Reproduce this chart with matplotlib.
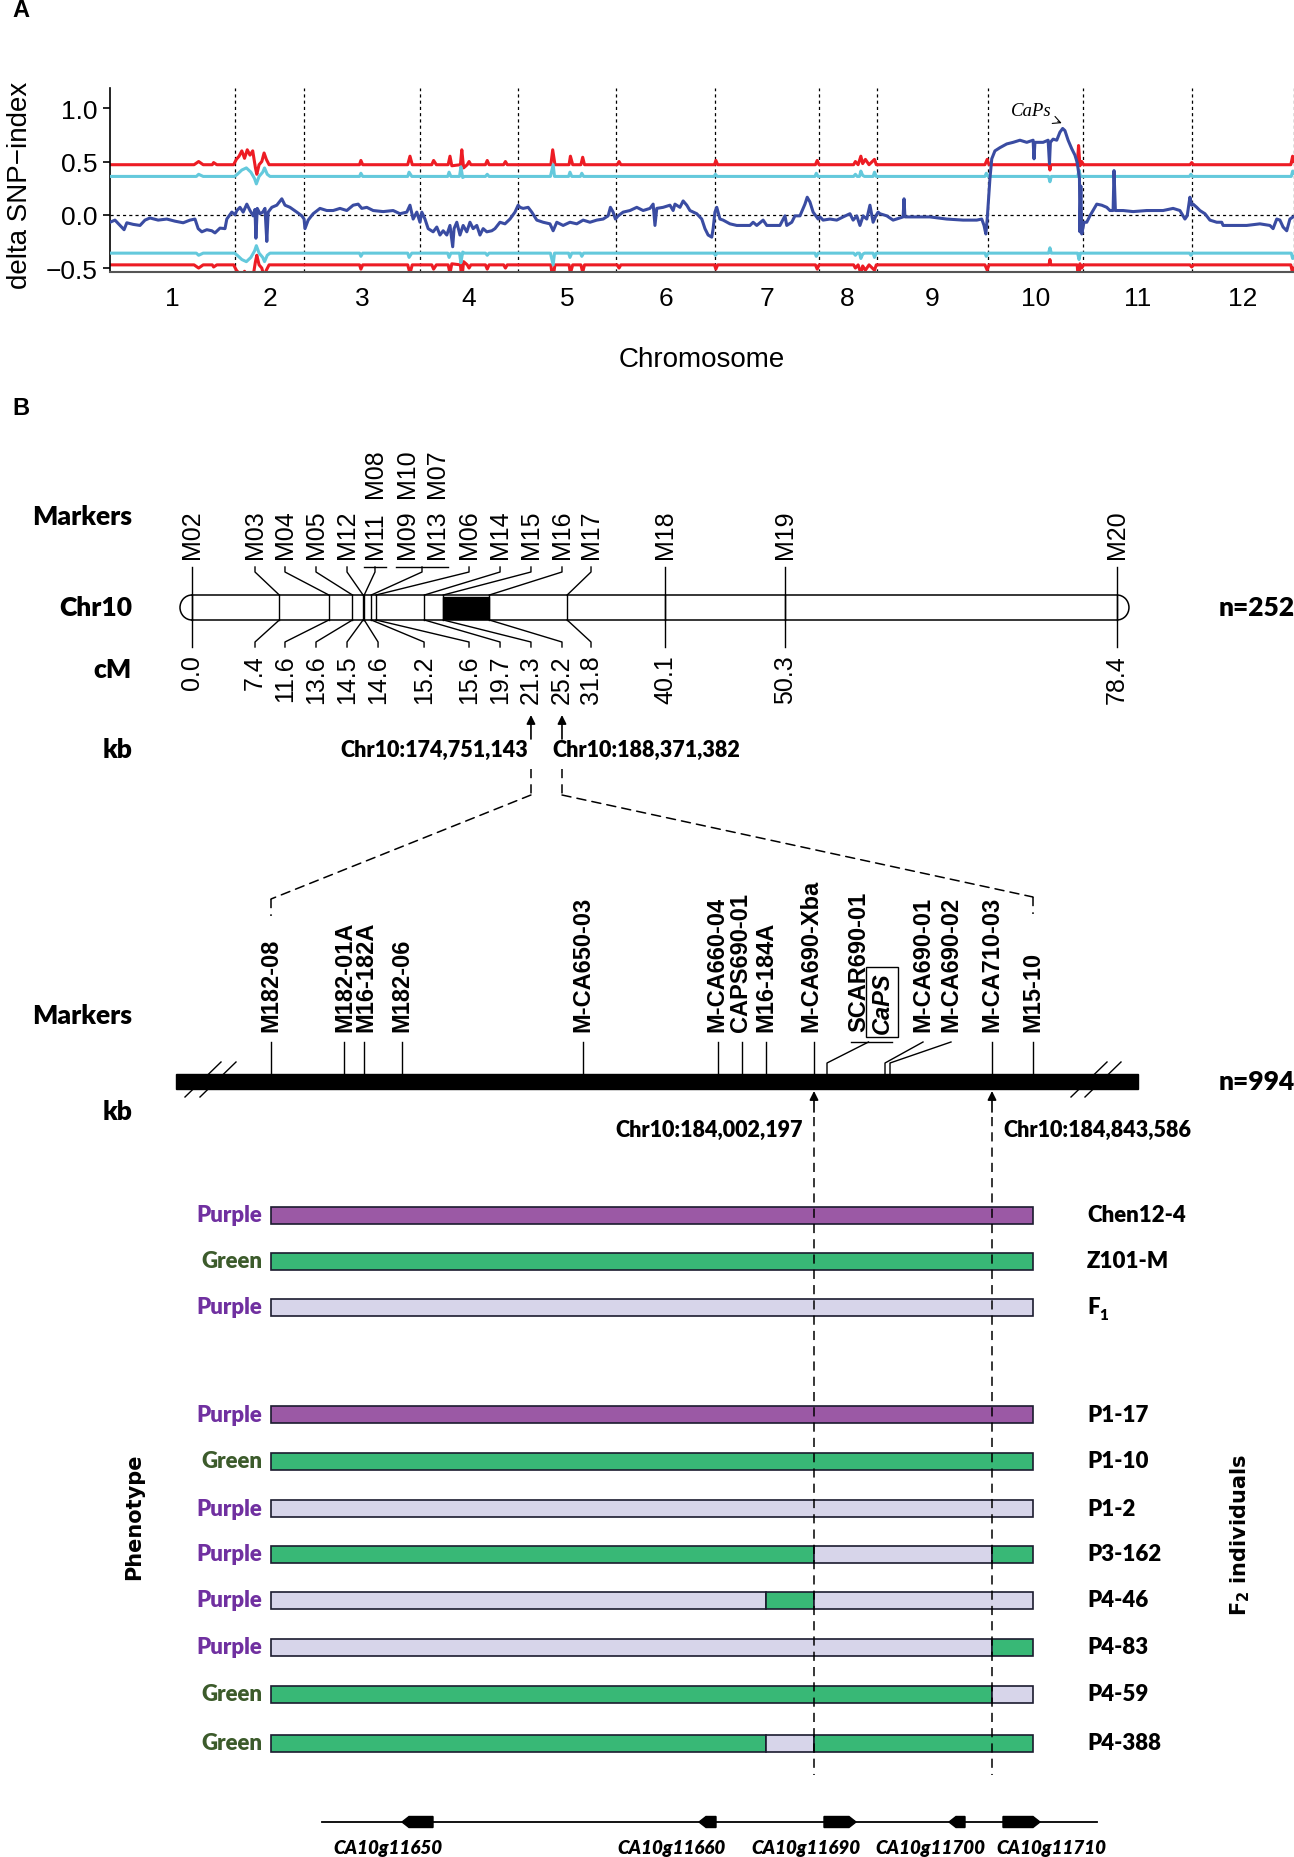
import numpy as np
import matplotlib
matplotlib.use("Agg")
import matplotlib.pyplot as plt
from matplotlib.patches import Rectangle, Arc, Polygon, ConnectionPatch

plt.rcParams['font.family'] = ['Liberation Sans', 'DejaVu Sans']

# ---------------- panel A data (Mb along the genome, delta SNP-index) ----------------
chrom_len = [275, 152, 255, 216, 216, 218, 227, 128, 244, 209, 240, 224]
chrom_names = ['1', '2', '3', '4', '5', '6', '7', '8', '9', '10', '11', '12']

blue_pos = [0, 11, 22, 31, 37, 51, 66, 77, 88, 106, 125, 143, 161, 176, 187, 194, 202, 213, 224, 231, 242, 253, 257, 268, 275,
            279, 286, 293, 301, 308, 315, 319, 321, 324, 330, 336, 341, 345, 348, 356, 367, 378, 385, 396, 411, 422, 427,
            429, 436, 447, 462, 477, 491, 506, 521, 535, 546, 554, 565, 579, 601, 623, 638, 653, 660, 667, 675, 682,
            686, 693, 700, 711, 719, 726, 733, 741, 748, 754, 757, 763, 770, 777, 785, 792, 799, 807, 814, 821, 829, 840, 847, 858, 869, 880, 891, 898,
            902, 909, 920, 928, 939, 953, 968, 975, 983, 997, 1012, 1027, 1041, 1056, 1071, 1085, 1096, 1101, 1107, 1112,
            1118, 1129, 1144, 1159, 1173, 1188, 1195, 1199, 1203, 1217, 1232, 1239, 1243, 1254, 1261, 1269, 1276, 1291, 1302, 1309, 1316, 1324, 1327, 1331,
            1335, 1342, 1349, 1364, 1379, 1393, 1408, 1415, 1423, 1437, 1445, 1459, 1474, 1485, 1489, 1500, 1507, 1518, 1529, 1534, 1540, 1547, 1558,
            1562, 1569, 1584, 1599, 1613, 1628, 1635, 1643, 1650, 1657, 1665, 1672, 1679, 1685,
            1690, 1694, 1709, 1723, 1745, 1747, 1749, 1767, 1804, 1841, 1877, 1907, 1918, 1923, 1927, 1930,
            1932, 1936, 1940, 1947, 1958, 1973, 1987, 2002, 2017, 2031, 2033, 2035, 2053, 2064, 2067, 2069, 2075, 2083, 2090, 2096, 2101, 2108, 2116, 2123, 2128, 2131, 2133, 2134, 2136, 2138,
            2143, 2149, 2156, 2171, 2182, 2193, 2200, 2207, 2209, 2212, 2229, 2251, 2281, 2317, 2339, 2354, 2365, 2370, 2376, 2380,
            2383, 2391, 2398, 2409, 2420, 2435, 2446, 2449, 2471, 2501, 2530, 2552, 2559, 2567, 2574, 2581, 2589, 2596, 2603]
blue_val = [-0.07, -0.05, -0.10, -0.14, -0.075, -0.09, -0.10, -0.05, -0.03, -0.05, -0.04, -0.06, -0.075, -0.05, -0.04, -0.13, -0.16, -0.14, -0.15, -0.17, -0.125, -0.13, -0.04, 0.025, 0.0,
            0.04, 0.07, 0.025, 0.10, 0.04, -0.01, 0.05, -0.22, 0.06, 0.01, 0.025, 0.06, -0.25, 0.025, 0.07, 0.09, 0.15, 0.09, 0.07, 0.025, -0.01, -0.04,
            -0.13, -0.05, 0.01, 0.06, 0.04, 0.04, 0.06, 0.04, 0.09, 0.10, 0.06, 0.07, 0.04, 0.03, 0.04, 0.01, 0.025, 0.09, -0.04, 0.025, -0.07,
            0.025, -0.04, -0.13, -0.16, -0.115, -0.19, -0.15, -0.19, -0.10, -0.30, -0.13, -0.07, -0.19, -0.10, -0.16, -0.07, -0.13, -0.10, -0.19, -0.13, -0.16, -0.15, -0.13, -0.07, -0.085, -0.04, 0.025, 0.09,
            0.07, 0.06, 0.07, 0.025, -0.05, -0.07, -0.085, -0.15, -0.07, -0.10, -0.07, -0.085, -0.05, -0.07, -0.05, -0.04, -0.01, 0.07, 0.025, -0.04,
            -0.01, 0.025, 0.04, 0.07, 0.04, 0.06, 0.10, -0.10, 0.06, 0.07, 0.09, 0.04, 0.10, 0.07, 0.13, 0.09, 0.04, 0.01, -0.04, -0.13, -0.19, -0.21, -0.13, 0.025,
            0.07, -0.04, -0.05, -0.085, -0.10, -0.10, -0.10, -0.07, -0.10, -0.05, -0.10, -0.10, -0.10, -0.01, -0.10, -0.07, -0.01, -0.01, 0.10, 0.165, 0.12, 0.025, -0.04,
            -0.02, -0.05, -0.04, -0.05, -0.02, 0.01, -0.05, -0.01, -0.10, -0.01, -0.04, 0.09, -0.07, -0.01,
            0.025, 0.01, -0.01, -0.05, -0.02, 0.15, -0.02, -0.02, -0.02, -0.04, -0.05, -0.05, -0.04, -0.10, -0.18, -0.04,
            0.09, 0.34, 0.525, 0.60, 0.63, 0.665, 0.68, 0.70, 0.68, 0.70, 0.525, 0.68, 0.68, 0.70, 0.48, 0.68, 0.71, 0.70, 0.775, 0.81, 0.79, 0.70, 0.62, 0.56, 0.49, 0.40, 0.34, -0.16, 0.27, -0.18,
            -0.07, -0.07, -0.01, 0.10, 0.09, 0.07, 0.04, 0.04, 0.415, 0.04, 0.04, 0.03, 0.04, 0.04, 0.06, 0.04, -0.04, -0.01, 0.165, 0.09,
            0.10, 0.07, 0.04, 0.01, -0.05, -0.07, -0.07, -0.10, -0.10, -0.10, -0.085, -0.10, -0.13, -0.04, -0.05, -0.115, -0.15, -0.04, -0.02]

# upper thresholds (the lower ones are the mirror image)
red_pos = [0, 185, 195, 205, 225, 228, 235, 272, 278, 284, 290, 296, 302, 308, 314, 320, 323, 328, 334, 339, 344, 350, 549, 552, 556, 655, 660, 665,
           708, 712, 718, 744, 748, 752, 771, 774, 778, 786, 790, 794, 826, 830, 834, 866, 870, 874, 970, 974, 979, 1010, 1013, 1018, 1036, 1040, 1044,
           1116, 1120, 1124, 1330, 1333, 1337, 1552, 1556, 1560, 1636, 1640, 1646, 1652, 1656, 1662, 1670, 1682, 1686, 1925, 1930, 1934, 2066, 2068, 2070,
           2128, 2131, 2134, 2138, 2142, 2376, 2380, 2384, 2598, 2602, 2604]
red_val = [0.47, 0.47, 0.50, 0.47, 0.47, 0.49, 0.47, 0.47, 0.52, 0.55, 0.60, 0.53, 0.61, 0.56, 0.60, 0.44, 0.38, 0.47, 0.50, 0.58, 0.52, 0.47, 0.47, 0.51, 0.47, 0.47, 0.55, 0.47,
           0.47, 0.51, 0.47, 0.47, 0.55, 0.46, 0.47, 0.61, 0.44, 0.47, 0.50, 0.47, 0.47, 0.51, 0.47, 0.47, 0.50, 0.47, 0.47, 0.61, 0.47, 0.47, 0.55, 0.47, 0.47, 0.54, 0.47,
           0.47, 0.50, 0.47, 0.47, 0.51, 0.47, 0.47, 0.51, 0.47, 0.47, 0.50, 0.47, 0.55, 0.48, 0.52, 0.47, 0.52, 0.47, 0.47, 0.52, 0.47, 0.47, 0.42, 0.47,
           0.47, 0.65, 0.46, 0.50, 0.47, 0.47, 0.49, 0.47, 0.47, 0.55, 0.50]
cyan_pos = [0, 190, 195, 205, 274, 280, 290, 300, 310, 318, 322, 328, 336, 340, 346, 352, 549, 552, 556, 655, 658, 664,
            743, 746, 750, 769, 772, 776, 780, 826, 830, 834, 969, 975, 978, 1009, 1012, 1016, 1035, 1038, 1042,
            1329, 1332, 1336, 1551, 1554, 1558, 1636, 1640, 1644, 1649, 1652, 1656, 1660, 1679, 1682, 1686, 1925, 1928, 1932,
            2065, 2068, 2071, 2129, 2132, 2135, 2375, 2378, 2382, 2599, 2602, 2604]
cyan_val = [0.36, 0.36, 0.38, 0.36, 0.36, 0.38, 0.42, 0.44, 0.40, 0.34, 0.29, 0.36, 0.40, 0.44, 0.38, 0.36, 0.36, 0.39, 0.36, 0.36, 0.40, 0.36,
            0.36, 0.40, 0.36, 0.36, 0.45, 0.35, 0.36, 0.36, 0.38, 0.36, 0.36, 0.47, 0.36, 0.36, 0.40, 0.36, 0.36, 0.39, 0.36,
            0.36, 0.38, 0.36, 0.36, 0.39, 0.36, 0.36, 0.38, 0.36, 0.36, 0.41, 0.37, 0.36, 0.36, 0.40, 0.36, 0.36, 0.39, 0.36,
            0.36, 0.31, 0.36, 0.36, 0.42, 0.36, 0.36, 0.38, 0.36, 0.36, 0.41, 0.39]

# ---------------- panel B data ----------------
# genetic map of Chr10 (cM)
marker_names = ['M02', 'M03', 'M04', 'M05', 'M12', 'M11', 'M09', 'M13', 'M06', 'M14', 'M15', 'M16', 'M17', 'M18', 'M19', 'M20']
marker_cm = [0.0, 7.4, 11.6, 13.6, 14.5, 14.6, 15.2, 15.2, 15.6, 19.7, 21.3, 25.2, 31.8, 40.1, 50.3, 78.4]
marker_slot = [0.0, 5.34, 7.88, 10.51, 13.14, 15.51, 18.22, 20.77, 23.48, 26.11, 28.73, 31.36, 33.82, 40.1, 50.3, 78.4]
upper_names = ['M08', 'M10', 'M07']
upper_slot = [15.51, 18.22, 20.77]
locus_cm = [0.0, 7.4, 11.6, 13.6, 14.5, 14.6, 15.2, 15.6, 19.7, 21.3, 25.2, 31.8, 40.1, 50.3, 78.4]
locus_slot = [0.0, 5.34, 7.88, 10.51, 13.14, 15.77, 19.67, 23.48, 26.11, 28.73, 31.36, 33.82, 40.1, 50.3, 78.4]
qtl_interval = (21.3, 25.2)

# physical fine map
fine_names = ['M182-08', 'M182-01A', 'M16-182A', 'M182-06', 'M-CA650-03', 'M-CA660-04', 'CAPS690-01', 'M16-184A',
              'M-CA690-Xba', 'SCAR690-01', 'M-CA690-01', 'M-CA690-02', 'M-CA710-03', 'M15-10']
fine_pos = [271, 344, 364, 402, 583, 718, 742, 766, 814, 827, 885, 890, 992, 1033]
fine_label_x = [271, 345, 366, 402, 583, 717, 741, 766, 811, 859, 923, 951, 992, 1033]

samples = ['Chen12-4', 'Z101-M', 'F1', 'P1-17', 'P1-10', 'P1-2', 'P3-162', 'P4-46', 'P4-83', 'P4-59', 'P4-388']
phenotypes = ['Purple', 'Green', 'Purple', 'Purple', 'Green', 'Purple', 'Purple', 'Purple', 'Purple', 'Green', 'Green']
haplotypes = [
    [('M182-08', 'M15-10', 'P')],
    [('M182-08', 'M15-10', 'G')],
    [('M182-08', 'M15-10', 'H')],
    [('M182-08', 'M15-10', 'P')],
    [('M182-08', 'M15-10', 'G')],
    [('M182-08', 'M15-10', 'H')],
    [('M182-08', 'M-CA690-Xba', 'G'), ('M-CA690-Xba', 'M-CA710-03', 'H'), ('M-CA710-03', 'M15-10', 'G')],
    [('M182-08', 'M16-184A', 'H'), ('M16-184A', 'M-CA690-Xba', 'G'), ('M-CA690-Xba', 'M15-10', 'H')],
    [('M182-08', 'M-CA710-03', 'H'), ('M-CA710-03', 'M15-10', 'G')],
    [('M182-08', 'M-CA710-03', 'G'), ('M-CA710-03', 'M15-10', 'H')],
    [('M182-08', 'M16-184A', 'G'), ('M16-184A', 'M-CA690-Xba', 'H'), ('M-CA690-Xba', 'M15-10', 'G')],
]
bar_y = [1216, 1262, 1308, 1415, 1462, 1509, 1555, 1601, 1648, 1695, 1744]
geno_color = {'P': '#9b59a5', 'G': '#38b876', 'H': '#d7d5ea'}
pheno_color = {'Purple': '#7030a0', 'Green': '#3c5b2b'}

gene_names = ['CA10g11650', 'CA10g11660', 'CA10g11690', 'CA10g11700', 'CA10g11710']
gene_start = [402, 699, 824, 949, 1003]
gene_end = [433, 716, 856, 965, 1040]
gene_strand = [-1, -1, 1, -1, 1]
gene_label_x = [388, 672, 806, 930, 1051]

W, H = 1294, 1858
fig = plt.figure(figsize=(W / 100, H / 100), dpi=100)

# overlay in pixel units for the drawn panel B
axB = fig.add_axes([0, 0, 1, 1], facecolor='none')
axB.set_xlim(0, W)
axB.set_ylim(H, 0)
axB.axis('off')

# ---------------- panel A ----------------
axA = fig.add_axes([110 / W, 1 - 273 / H, (W - 110) / W, (273 - 89) / H], facecolor='none')
bounds = np.concatenate([[0], np.cumsum(chrom_len)])
centers = (bounds[:-1] + bounds[1:]) / 2
axA.set_xlim(0, 2605)
axA.set_ylim(-0.537, 1.19)
for b in bounds[1:]:
    axA.axvline(b, color='black', lw=0.9, ls=(0, (2.5, 2.5)), zorder=1)
axA.axhline(0, color='black', lw=0.9, ls=(0, (2.5, 2.5)), zorder=1)
axA.plot(red_pos, red_val, color='#ed1c24', lw=2.2, zorder=2)
axA.plot(red_pos, np.negative(red_val), color='#ed1c24', lw=2.2, zorder=2)
axA.plot(cyan_pos, cyan_val, color='#64c9dc', lw=2.2, zorder=3)
axA.plot(cyan_pos, np.negative(cyan_val), color='#64c9dc', lw=2.2, zorder=3)
axA.plot(blue_pos, blue_val, color='#3a4ca2', lw=2.2, zorder=4)
axA.set_xticks(centers)
axA.set_xticklabels(chrom_names)
axA.set_yticks([-0.5, 0.0, 0.5, 1.0])
axA.set_yticklabels(['\u22120.5', '0.0', '0.5', '1.0'])
axA.tick_params(axis='x', length=0, pad=10, labelsize=19)
axA.tick_params(axis='y', length=5, width=1.2, pad=4, labelsize=19)
for s in ['top', 'right']:
    axA.spines[s].set_visible(False)
axA.spines['left'].set_linewidth(1.2)
axA.spines['bottom'].set_color('#555555')
axA.spines['bottom'].set_linewidth(1.5)
axA.annotate('CaPs', xy=(2094, 0.86), xytext=(2026, 0.975), ha='center', va='center',
             fontsize=13.5, fontstyle='italic', family=['Liberation Serif', 'DejaVu Serif'],
             arrowprops=dict(arrowstyle='->', lw=0.8, color='black', shrinkA=3, shrinkB=0))

axB.text(702, 360, 'Chromosome', ha='center', va='center', fontsize=20)
axB.text(20, 185, 'delta SNP\u2212index', rotation=90, ha='center', va='center', fontsize=20)
axB.text(12, 10, 'A', ha='left', va='center', fontsize=17, weight='bold')
axB.text(12, 408, 'B', ha='left', va='center', fontsize=17, weight='bold')

# ---------------- panel B: Chr10 genetic map ----------------
cm0, cm_px = 192, 11.798
axC = fig.add_axes([0, 0, 1, 1], facecolor='none')
axC.set_xlim(-cm0 / cm_px, (W - cm0) / cm_px)
axC.set_ylim(H, 0)
axC.axis('off')

chr_top, chr_bot = 596, 621
chr_mid = (chr_top + chr_bot) / 2
total_cm = locus_cm[-1]
cap = 12 / cm_px
axC.plot([0, total_cm], [chr_top, chr_top], color='black', lw=1.1)
axC.plot([0, total_cm], [chr_bot, chr_bot], color='black', lw=1.1)
axC.add_patch(Arc((0, chr_mid), 2 * cap, chr_bot - chr_top, theta1=90, theta2=270, lw=1.1, color='black'))
axC.add_patch(Arc((total_cm, chr_mid), 2 * cap, chr_bot - chr_top, theta1=-90, theta2=90, lw=1.1, color='black'))
axC.add_patch(Rectangle((qtl_interval[0], chr_top + 2), qtl_interval[1] - qtl_interval[0], chr_bot - chr_top - 3,
                        color='black', zorder=3))

lw_map = 1.0
top_y0, top_y1 = 568, 573
bot_y0, bot_y1 = 643, 648
for cm, slot in zip(locus_cm, locus_slot):
    axC.plot([cm, cm], [chr_top, chr_bot], color='black', lw=lw_map)
    if abs(cm - slot) < 0.05:
        axC.plot([cm, cm], [top_y0, bot_y1], color='black', lw=lw_map)
    else:
        axC.plot([cm, slot, slot], [chr_bot, bot_y0, bot_y1], color='black', lw=lw_map)

# top connectors (grouped markers share one bracket)
groups = {}
for name, cm, slot in zip(marker_names, marker_cm, marker_slot):
    groups.setdefault(cm, []).append(slot)
for cm, slots in groups.items():
    attach = np.mean(slots)
    if abs(cm - attach) < 0.05:
        continue
    if len(slots) > 1 or cm == 14.6:
        axC.plot([min(slots) - 0.95, max(slots) + 0.95], [top_y0, top_y0], color='black', lw=lw_map)
    axC.plot([attach, attach, cm], [top_y0, top_y1, chr_top], color='black', lw=lw_map)

for name, slot in zip(marker_names, marker_slot):
    axC.text(slot, 559, name, rotation=90, ha='center', va='bottom', fontsize=18)
for name, slot in zip(upper_names, upper_slot):
    axC.text(slot, 498, name, rotation=90, ha='center', va='bottom', fontsize=18)
for cm, slot in zip(locus_cm, locus_slot):
    axC.text(slot, 655, f'{cm:.1f}', rotation=90, ha='center', va='top', fontsize=18)

lab_font = ['Lato', 'DejaVu Sans']
lab_w = 'heavy'
for txt, y in [('Markers', 517), ('Chr10', 608), ('cM', 670), ('kb', 750), ('Markers', 1016), ('kb', 1112)]:
    axB.text(132, y, txt, ha='right', va='center', fontsize=19, weight=lab_w, family=lab_font)
axB.text(1219, 608, 'n=252', ha='left', va='center', fontsize=19, weight=lab_w, family=lab_font)
axB.text(1219, 1082, 'n=994', ha='left', va='center', fontsize=19, weight=lab_w, family=lab_font)

# arrows to the physical positions of the flanking markers
dash = (0, (6, 4))
left_i, right_i = locus_cm.index(qtl_interval[0]), locus_cm.index(qtl_interval[1])
for i, end_x, end_y in [(left_i, fine_pos[0], 900), (right_i, fine_pos[-1], 898)]:
    sx = locus_slot[i]
    axC.annotate('', xy=(sx, 716), xytext=(sx, 740),
                 arrowprops=dict(arrowstyle='-|>', color='black', lw=1.2, mutation_scale=13, shrinkA=0, shrinkB=0))
    axC.plot([sx, sx], [770, 796], color='black', lw=1.1, ls=dash)
    con = ConnectionPatch(xyA=(sx, 796), coordsA='data', axesA=axC, xyB=(end_x, end_y), coordsB='data', axesB=axB,
                          color='black', lw=1.1, ls=dash)
    fig.add_artist(con)
    axB.plot([end_x, end_x], [end_y, end_y + 17], color='black', lw=1.1, ls=dash)
axC.text(locus_slot[left_i] - 0.2, 750, 'Chr10:174,751,143', ha='right', va='center', fontsize=15.5, weight=lab_w, family=lab_font)
axC.text(locus_slot[right_i] - 0.8, 750, 'Chr10:188,371,382', ha='left', va='center', fontsize=15.5, weight=lab_w, family=lab_font)

# ---------------- panel B: fine map ----------------
axB.add_patch(Rectangle((176, 1075), 962, 15, color='black', zorder=2))
for x0 in (185, 200, 1071, 1085):
    axB.plot([x0, x0 + 36], [1098, 1063], color='black', lw=1.0)

caps_x = 882
for name, pos, lx in zip(fine_names, fine_pos, fine_label_x):
    axB.text(lx, 1032, name, rotation=90, ha='center', va='bottom', fontsize=17, weight='bold')
    if name == 'SCAR690-01':
        axB.plot([851, 892], [1043, 1043], color='black', lw=1.0)
        axB.plot([(lx + caps_x) / 2 - 2, pos, pos], [1043, 1064, 1075], color='black', lw=1.0)
    elif abs(lx - pos) > 4:
        axB.plot([lx, pos, pos], [1043, 1064, 1075], color='black', lw=1.0)
    else:
        axB.plot([pos, pos], [1043, 1075], color='black', lw=1.0)
axB.text(caps_x, 1034, 'CaPS', rotation=90, ha='center', va='bottom', fontsize=17, weight='bold', style='italic',
         bbox=dict(boxstyle='square,pad=0.18', fc='white', ec='black', lw=1.0))

flank = [fine_pos[fine_names.index('M-CA690-Xba')], fine_pos[fine_names.index('M-CA710-03')]]
for x in flank:
    axB.annotate('', xy=(x, 1092), xytext=(x, 1113),
                 arrowprops=dict(arrowstyle='-|>', color='black', lw=1.2, mutation_scale=13, shrinkA=0, shrinkB=0))
    axB.plot([x, x], [1118, 1776], color='black', lw=1.1, ls=dash, zorder=6)
axB.text(flank[0] - 11, 1130, 'Chr10:184,002,197', ha='right', va='center', fontsize=15.5, weight=lab_w, family=lab_font)
axB.text(flank[1] + 11, 1130, 'Chr10:184,843,586', ha='left', va='center', fontsize=15.5, weight=lab_w, family=lab_font)

# ---------------- genotypes ----------------
pos_of = dict(zip(fine_names, fine_pos))
bar_h = 17
for y, segs, ph, name in zip(bar_y, haplotypes, phenotypes, samples):
    for a, b, code in segs:
        axB.add_patch(Rectangle((pos_of[a], y - bar_h / 2), pos_of[b] - pos_of[a], bar_h,
                                fc=geno_color[code], ec='#1b1b2f', lw=1.2, zorder=3))
    axB.text(262, y, ph, ha='right', va='center', fontsize=16, weight=lab_w, color=pheno_color[ph], family=lab_font)
    if name == 'F1':
        axB.text(1087, y, 'F', ha='left', va='center', fontsize=16, weight=lab_w, family=lab_font)
        axB.text(1099, y + 7, '1', ha='left', va='center', fontsize=11, weight=lab_w, family=lab_font)
    else:
        axB.text(1087, y, name, ha='left', va='center', fontsize=16, weight=lab_w, family=lab_font)

axB.text(134, 1517, 'Phenotype', rotation=90, ha='center', va='center', fontsize=15, weight='bold',
         family=['DejaVu Sans'])
axB.text(1240, 1535, r'$\mathbf{F_2}$ individuals', rotation=90, ha='center', va='center', fontsize=15,
         weight='bold', family=['DejaVu Sans'])

# ---------------- gene models ----------------
gy, gh, tip = 1823, 11, 7
axB.plot([322, 1097], [gy, gy], color='black', lw=1.3)
for s, e, st, gname, lx in zip(gene_start, gene_end, gene_strand, gene_names, gene_label_x):
    if st > 0:
        pts = [(s, gy - gh / 2), (e - tip, gy - gh / 2), (e, gy), (e - tip, gy + gh / 2), (s, gy + gh / 2)]
    else:
        pts = [(e, gy - gh / 2), (s + tip, gy - gh / 2), (s, gy), (s + tip, gy + gh / 2), (e, gy + gh / 2)]
    axB.add_patch(Polygon(pts, closed=True, color='black', zorder=3))
    axB.text(lx, 1849, gname, ha='center', va='center', fontsize=13.5, weight=lab_w, style='italic', family=lab_font)

fig.savefig('out.png', dpi=100)
